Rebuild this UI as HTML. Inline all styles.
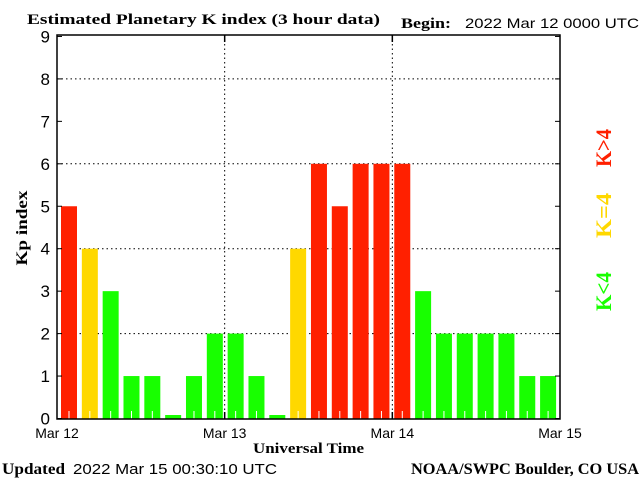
<!DOCTYPE html>
<html><head><meta charset="utf-8"><style>
body{margin:0;background:#fff;}
svg{display:block;}
.serif{font-family:"Liberation Serif",serif;font-weight:bold;}
.sans{font-family:"Liberation Sans",sans-serif;}
</style></head><body>
<svg id="chart" width="640" height="480" viewBox="0 0 640 480">
<text class="serif" x="27" y="24" font-size="15" textLength="353" lengthAdjust="spacingAndGlyphs">Estimated Planetary K index (3 hour data)</text>
<text class="serif" x="401" y="28" font-size="15" textLength="50" lengthAdjust="spacingAndGlyphs">Begin:</text>
<text class="sans" x="465" y="28" font-size="14" textLength="174" lengthAdjust="spacingAndGlyphs">2022 Mar 12 0000 UTC</text>
<g id="grid"></g>
<g id="bars"></g>
<rect x="57" y="35" width="503" height="384" fill="none" stroke="#000" stroke-width="1.5"/>
<g id="yticks"></g>
<g id="xticks"></g>
<text class="serif" font-size="16" transform="translate(27,228) rotate(-90)" text-anchor="middle" textLength="75" lengthAdjust="spacingAndGlyphs">Kp index</text>
<text class="serif" x="253" y="453" font-size="15" textLength="111" lengthAdjust="spacingAndGlyphs">Universal Time</text>
<text class="serif" font-size="22" fill="#ff2000" transform="translate(611,167) rotate(-90)" textLength="38" lengthAdjust="spacingAndGlyphs">K&gt;4</text>
<text class="serif" font-size="22" fill="#ffd800" transform="translate(611,238) rotate(-90)" textLength="45" lengthAdjust="spacingAndGlyphs">K=4</text>
<text class="serif" font-size="22" fill="#18ff00" transform="translate(611,311) rotate(-90)" textLength="39" lengthAdjust="spacingAndGlyphs">K&lt;4</text>
<text class="serif" x="2" y="474" font-size="16" textLength="63" lengthAdjust="spacingAndGlyphs">Updated</text>
<text class="sans" x="73" y="474" font-size="15" textLength="204" lengthAdjust="spacingAndGlyphs">2022 Mar 15 00:30:10 UTC</text>
<text class="serif" x="411" y="474" font-size="16" textLength="228" lengthAdjust="spacingAndGlyphs">NOAA/SWPC Boulder, CO USA</text>
</svg>
<script>
const kpValues = [5,4,3,1,1,0,1,2,2,1,0,4,6,5,6,6,6,3,2,2,2,2,1,1];
const yTickLabels = ["0","1","2","3","4","5","6","7","8","9"];
const dayLabels = ["Mar 12","Mar 13","Mar 14","Mar 15"];
const NS="http://www.w3.org/2000/svg";
const x0=57,x1=560,yBot=418.5,yStep=42.45;
const barStep=20.83,barW=16,barStart=61;
function yScale(v){return yBot-v*yStep;}
function xBar(i){return barStart+i*barStep;}
function xDay(d){return x0+d*(x1-x0)/3;}
function mk(tag,attrs,parent){const e=document.createElementNS(NS,tag);for(const k in attrs)e.setAttribute(k,attrs[k]);parent.appendChild(e);return e;}
const grid=document.getElementById('grid'),bars=document.getElementById('bars'),yt=document.getElementById('yticks'),xt=document.getElementById('xticks');
yTickLabels.forEach((lab,i)=>{
  const y=yScale(i);
  if(i>0&&i<9&&i%2===0){
    const g=mk('line',{x1:x0,x2:x1,y1:y,y2:y,stroke:'#000','stroke-dasharray':'1.5,3','stroke-width':1},grid);
    
    
  }
  const t1=mk('line',{x1:x0,x2:x0+5,y1:y,y2:y,stroke:'#000'},yt);
  
  
  const t2=mk('line',{x1:x1-5,x2:x1,y1:y,y2:y,stroke:'#000'},yt);
  
  
  const tx=mk('text',{x:50,y:y+6,'font-size':17,'text-anchor':'end','font-family':'Liberation Sans, sans-serif'},yt);
  tx.textContent=lab;
  
  
});
dayLabels.forEach((lab,d)=>{
  const x=xDay(d);
  if(d>0&&d<3){
    const g=mk('line',{x1:x,x2:x,y1:35,y2:419,stroke:'#000','stroke-dasharray':'1.5,3'},grid);
    
    
    const a=mk('line',{x1:x,x2:x,y1:35,y2:42,stroke:'#000','stroke-width':1.5},xt);
    
    
    const b=mk('line',{x1:x,x2:x,y1:412,y2:419,stroke:'#000','stroke-width':1.5},xt);
    
    
  }
  const tx=mk('text',{x:x,y:438,'font-size':14,'text-anchor':'middle','font-family':'Liberation Sans, sans-serif'},xt);
  tx.textContent=lab;
  
  
});
kpValues.forEach((v,i)=>{
  const col=v>4?'#ff2000':(v===4?'#ffd800':'#18ff00');
  const top=v===0?yScale(0)-3.5:yScale(v);
  const bx=xBar(i);
  const r=mk('rect',{x:bx,y:top,width:barW,height:yBot-top,fill:col},bars);
  
  
  if(v>0){
    const c=bx+barW/2;
    const t=mk('line',{x1:c,x2:c,y1:411,y2:419,stroke:'#fff','stroke-width':1},bars);
    
    
  }
});
</script>
</body></html>
